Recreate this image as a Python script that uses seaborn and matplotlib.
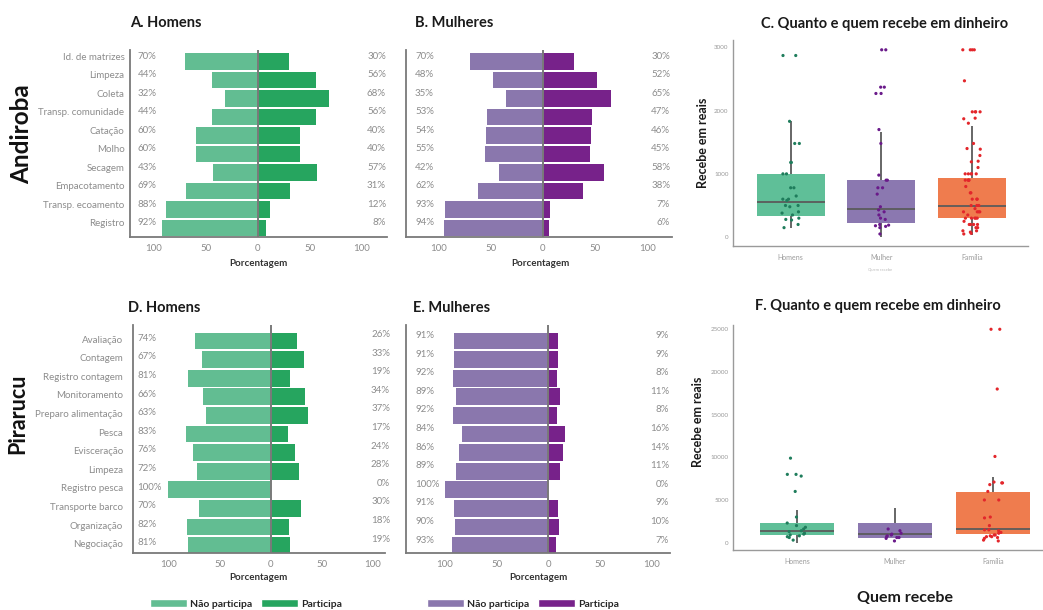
import numpy as np
import pandas as pd
import matplotlib
matplotlib.use("Agg")
import matplotlib.pyplot as plt
import seaborn as sns
from matplotlib.patches import Patch

# ---------------- data ----------------
cats_and = ["Id. de matrizes", "Limpeza", "Coleta", "Transp. comunidade", "Catação",
            "Molho", "Secagem", "Empacotamento", "Transp. ecoamento", "Registro"]
and_h_nao = [70, 44, 32, 44, 60, 60, 43, 69, 88, 92]
and_h_part = [30, 56, 68, 56, 40, 40, 57, 31, 12, 8]
and_m_nao = [70, 48, 35, 53, 54, 55, 42, 62, 93, 94]
and_m_part = [30, 52, 65, 47, 46, 45, 58, 38, 7, 6]

cats_pir = ["Avaliação", "Contagem", "Registro contagem", "Monitoramento",
            "Preparo alimentação", "Pesca", "Evisceração", "Limpeza",
            "Registro pesca", "Transporte barco", "Organização", "Negociação"]
pir_h_nao = [74, 67, 81, 66, 63, 83, 76, 72, 100, 70, 82, 81]
pir_h_part = [26, 33, 19, 34, 37, 17, 24, 28, 0, 30, 18, 19]
pir_m_nao = [91, 91, 92, 89, 92, 84, 86, 89, 100, 91, 90, 93]
pir_m_part = [9, 9, 8, 11, 8, 16, 14, 11, 0, 9, 10, 7]

grupos = ["Homens", "Mulher", "Família"]

# five-number summaries: [whisker low, Q1, median, Q3, whisker high]
c_box_homens = [150, 330, 550, 1000, 1830]
c_box_mulher = [0, 225, 440, 900, 1660]
c_box_familia = [40, 295, 495, 930, 1760]
f_box_homens = [0, 860, 1400, 2300, 3820]
f_box_mulher = [590, 590, 1050, 2260, 4050]
f_box_familia = [1050, 1050, 1560, 5880, 7710]

# individual points (jittered)
c_pts_homens = [2870, 2870, 1830, 1480, 1480, 1180, 1180, 1000, 1000, 780, 780, 650, 600, 600,
                580, 500, 500, 480, 400, 380, 350, 300, 280, 270, 200, 150]
c_pts_mulher = [2960, 2960, 2370, 2370, 2270, 2270, 1700, 1480, 980, 900, 900, 780, 780, 680,
                480, 430, 400, 350, 300, 280, 200, 190, 180, 170, 150, 50]
c_pts_familia = [2960, 2960, 2960, 2960, 2470, 1980, 1980, 1980, 1980, 1880, 1870, 1800, 1480,
                 1400, 1390, 1290, 1200, 1190, 1100, 1000, 1000, 1000, 1000, 1000, 900, 900, 900,
                 900, 800, 700, 700, 600, 600, 600, 500, 500, 500, 450, 400, 400, 400, 400, 350,
                 300, 300, 300, 300, 300, 250, 200, 200, 200, 200, 150, 150, 100, 100, 80, 60, 50]
f_pts_homens = [9900, 8000, 8000, 7800, 6000, 3000, 2300, 2000, 1800, 1600, 1400, 1300, 1100,
                1000, 900, 800, 700, 600, 300]
f_pts_mulher = [1600, 1400, 1100, 1000, 900, 800, 700, 600, 600, 500, 200]
f_pts_familia = [25000, 25000, 18000, 10100, 7100, 7000, 7000, 6800, 6000, 5000, 5000, 3000,
                 2900, 2000, 1500, 1500, 1400, 1200, 1100, 900, 900, 800, 700, 700, 600, 500,
                 300, 200]

# ---------------- style ----------------
sns.set_style("white")
plt.rcParams["font.family"] = ["Lato", "DejaVu Sans"]

GREEN_L, GREEN_D = "#62bd92", "#26a55f"
PURP_L, PURP_D = "#8a77ad", "#77228a"
BOX_COLS = ["#5fbf98", "#8b78b0", "#ef7c4e"]
PT_COLS = ["#1f7d5c", "#6a1a8a", "#e3262b"]
GRAY = "#8c8c8c"

W, H = 1043, 610
fig = plt.figure(figsize=(W / 100, H / 100), dpi=100)


def fx(x):
    return x / W


def fy(y):
    return 1 - y / H


def rect(l, t, r, b):
    return [l / W, 1 - b / H, (r - l) / W, (b - t) / H]


axA = fig.add_axes(rect(130, 50, 387, 237.3))
axB = fig.add_axes(rect(405.7, 50, 671.7, 237.3))
axC = fig.add_axes(rect(732.7, 40, 1028, 246))
axD = fig.add_axes(rect(132.7, 325, 385, 553.3))
axE = fig.add_axes(rect(405.7, 325, 670, 553.3))
axF = fig.add_axes(rect(733, 325, 1042, 550))


def bar_panel(ax, cats, nao, part, cl, cd, xlim, ylim, show_cats, lab_off,
              lfrac, rfrac, loff, roff, ypad):
    n = len(cats)
    sns.barplot(x=[-v for v in nao], y=cats, orient="h", color=cl, saturation=1,
                width=0.9, errorbar=None, linewidth=0, ax=ax)
    sns.barplot(x=part, y=cats, orient="h", color=cd, saturation=1,
                width=0.9, errorbar=None, linewidth=0, ax=ax)
    ax.axvline(0, color="#7a7a7a", lw=1.4, zorder=3)
    ax.set_xlim(*xlim)
    ax.set_ylim(*ylim)
    ax.set_xticks([-100, -50, 0, 50, 100])
    ax.set_xticklabels(["100", "50", "0", "50", "100"])
    if show_cats:
        ax.set_yticks(np.arange(n) + lab_off)
        ax.set_yticklabels(cats)
    else:
        ax.set_yticks([])
    ax.set_xlabel("")
    ax.set_ylabel("")
    ax.tick_params(length=0, labelsize=7, colors=GRAY)
    ax.tick_params(axis="y", pad=ypad)
    ax.tick_params(axis="x", pad=5)
    tr = ax.get_yaxis_transform()
    for i, (a, b) in enumerate(zip(nao, part)):
        ax.text(lfrac, i + loff, f"{a}%", transform=tr, ha="left", va="center",
                fontsize=7, color=GRAY)
        ax.text(rfrac, i + roff, f"{b}%", transform=tr, ha="right", va="center",
                fontsize=7, color=GRAY)
    for s in ["top", "right"]:
        ax.spines[s].set_visible(False)
    for s in ["left", "bottom"]:
        ax.spines[s].set_color("#7a7a7a")
        ax.spines[s].set_linewidth(1.3)


bar_panel(axA, cats_and, and_h_nao, and_h_part, GREEN_L, GREEN_D, (-123, 124), (9.5, -0.63),
          True, -0.3, 0.031, 0.996, -0.3, -0.3, 4)
bar_panel(axB, cats_and, and_m_nao, and_m_part, PURP_L, PURP_D, (-131, 123), (9.5, -0.63),
          False, -0.3, 0.035, 0.994, -0.3, -0.3, 4)
bar_panel(axD, cats_pir, pir_h_nao, pir_h_part, GREEN_L, GREEN_D, (-135, 112), (11.41, -0.86),
          True, -0.1, 0.018, 1.02, -0.15, -0.35, 7)
bar_panel(axE, cats_pir, pir_m_nao, pir_m_part, PURP_L, PURP_D, (-138, 117.6), (11.41, -0.86),
          False, -0.1, 0.036, 0.997, -0.3, -0.3, 4)


def box_panel(ax, boxes, pts, ylim, yticks, xlim, ysize, xsize, seed):
    box_df = pd.DataFrame({"grupo": np.repeat(grupos, 5), "valor": np.concatenate(boxes)})
    pts_df = pd.DataFrame({
        "grupo": np.concatenate([[g] * len(p) for g, p in zip(grupos, pts)]),
        "valor": np.concatenate(pts)})
    sns.boxplot(data=box_df, x="grupo", y="valor", hue="grupo", order=grupos,
                hue_order=grupos, palette=BOX_COLS, saturation=1, width=0.75,
                showcaps=False, showfliers=False, linecolor="#5b5b5b", linewidth=1.3,
                legend=False, ax=ax)
    for p in ax.patches:
        p.set_linewidth(0)
    np.random.seed(seed)
    sns.stripplot(data=pts_df, x="grupo", y="valor", hue="grupo", order=grupos,
                  hue_order=grupos, palette=PT_COLS, size=2.3, jitter=0.1, linewidth=0,
                  legend=False, ax=ax, zorder=4)
    ax.set_ylim(*ylim)
    ax.set_xlim(*xlim)
    ax.set_yticks(yticks)
    ax.set_xlabel("")
    ax.set_ylabel("")
    ax.tick_params(length=0, colors="#9a9a9a")
    ax.tick_params(axis="y", labelsize=ysize, pad=3)
    ax.tick_params(axis="x", labelsize=xsize, pad=6)
    for s in ["top", "right"]:
        ax.spines[s].set_visible(False)
    for s in ["left", "bottom"]:
        ax.spines[s].set_color("#9a9a9a")
        ax.spines[s].set_linewidth(1.0)


box_panel(axC, [c_box_homens, c_box_mulher, c_box_familia],
          [c_pts_homens, c_pts_mulher, c_pts_familia],
          (-140, 3115), [0, 1000, 2000, 3000], (-0.64, 2.62), 4.5, 5, 7)
box_panel(axF, [f_box_homens, f_box_mulher, f_box_familia],
          [f_pts_homens, f_pts_mulher, f_pts_familia],
          (-860, 25500), [0, 5000, 10000, 15000, 20000, 25000], (-0.65, 2.5), 4.5, 5, 11)

# ---------------- texts ----------------
tkw = dict(fontsize=10.5, fontweight="bold", color="#1a1a1a")
fig.text(fx(130), fy(23), "A. Homens", ha="left", va="center", **tkw)
fig.text(fx(415), fy(23), "B. Mulheres", ha="left", va="center", **tkw)
fig.text(fx(885), fy(24), "C. Quanto e quem recebe em dinheiro", ha="center", va="center", **tkw)
fig.text(fx(128), fy(308), "D. Homens", ha="left", va="center", **tkw)
fig.text(fx(413), fy(308), "E. Mulheres", ha="left", va="center", **tkw)
fig.text(fx(878), fy(306), "F. Quanto e quem recebe em dinheiro", ha="center", va="center", **tkw)

fig.text(fx(22), fy(134), "Andiroba", rotation=90, ha="center", va="center",
         fontsize=17.5, fontweight="bold", color="#111111")
fig.text(fx(18), fy(414), "Pirarucu", rotation=90, ha="center", va="center",
         fontsize=15.5, fontweight="bold", color="#111111")

for x, y in [(258, 263), (540, 263), (258, 578), (538, 578)]:
    fig.text(fx(x), fy(y), "Porcentagem", ha="center", va="center", fontsize=7,
             fontweight="bold", color="#333333")

fig.text(fx(703), fy(143), "Recebe em reais", rotation=90, ha="center", va="center",
         fontsize=9, fontweight="bold", color="#1a1a1a")
fig.text(fx(698), fy(422), "Recebe em reais", rotation=90, ha="center", va="center",
         fontsize=9, fontweight="bold", color="#1a1a1a")
fig.text(fx(880), fy(269), "Quem recebe", ha="center", va="center", fontsize=3,
         color="#bbbbbb")
fig.text(fx(905), fy(598), "Quem recebe", ha="center", va="center", fontsize=11.5,
         fontweight="bold", color="#1a1a1a")

# ---------------- legends ----------------
lkw = dict(loc="center", ncol=2, frameon=False, handlelength=3.6, handleheight=0.8,
           handletextpad=0.3, columnspacing=0.8, prop={"weight": "bold", "size": 7.5},
           borderpad=0, borderaxespad=0)
fig.legend(handles=[Patch(facecolor=GREEN_L), Patch(facecolor=GREEN_D)],
           labels=["Não participa", "Participa"], bbox_to_anchor=(fx(246), fy(604)), **lkw)
fig.legend(handles=[Patch(facecolor=PURP_L), Patch(facecolor=PURP_D)],
           labels=["Não participa", "Participa"], bbox_to_anchor=(fx(523), fy(604)), **lkw)

fig.savefig("out.png", dpi=100)
